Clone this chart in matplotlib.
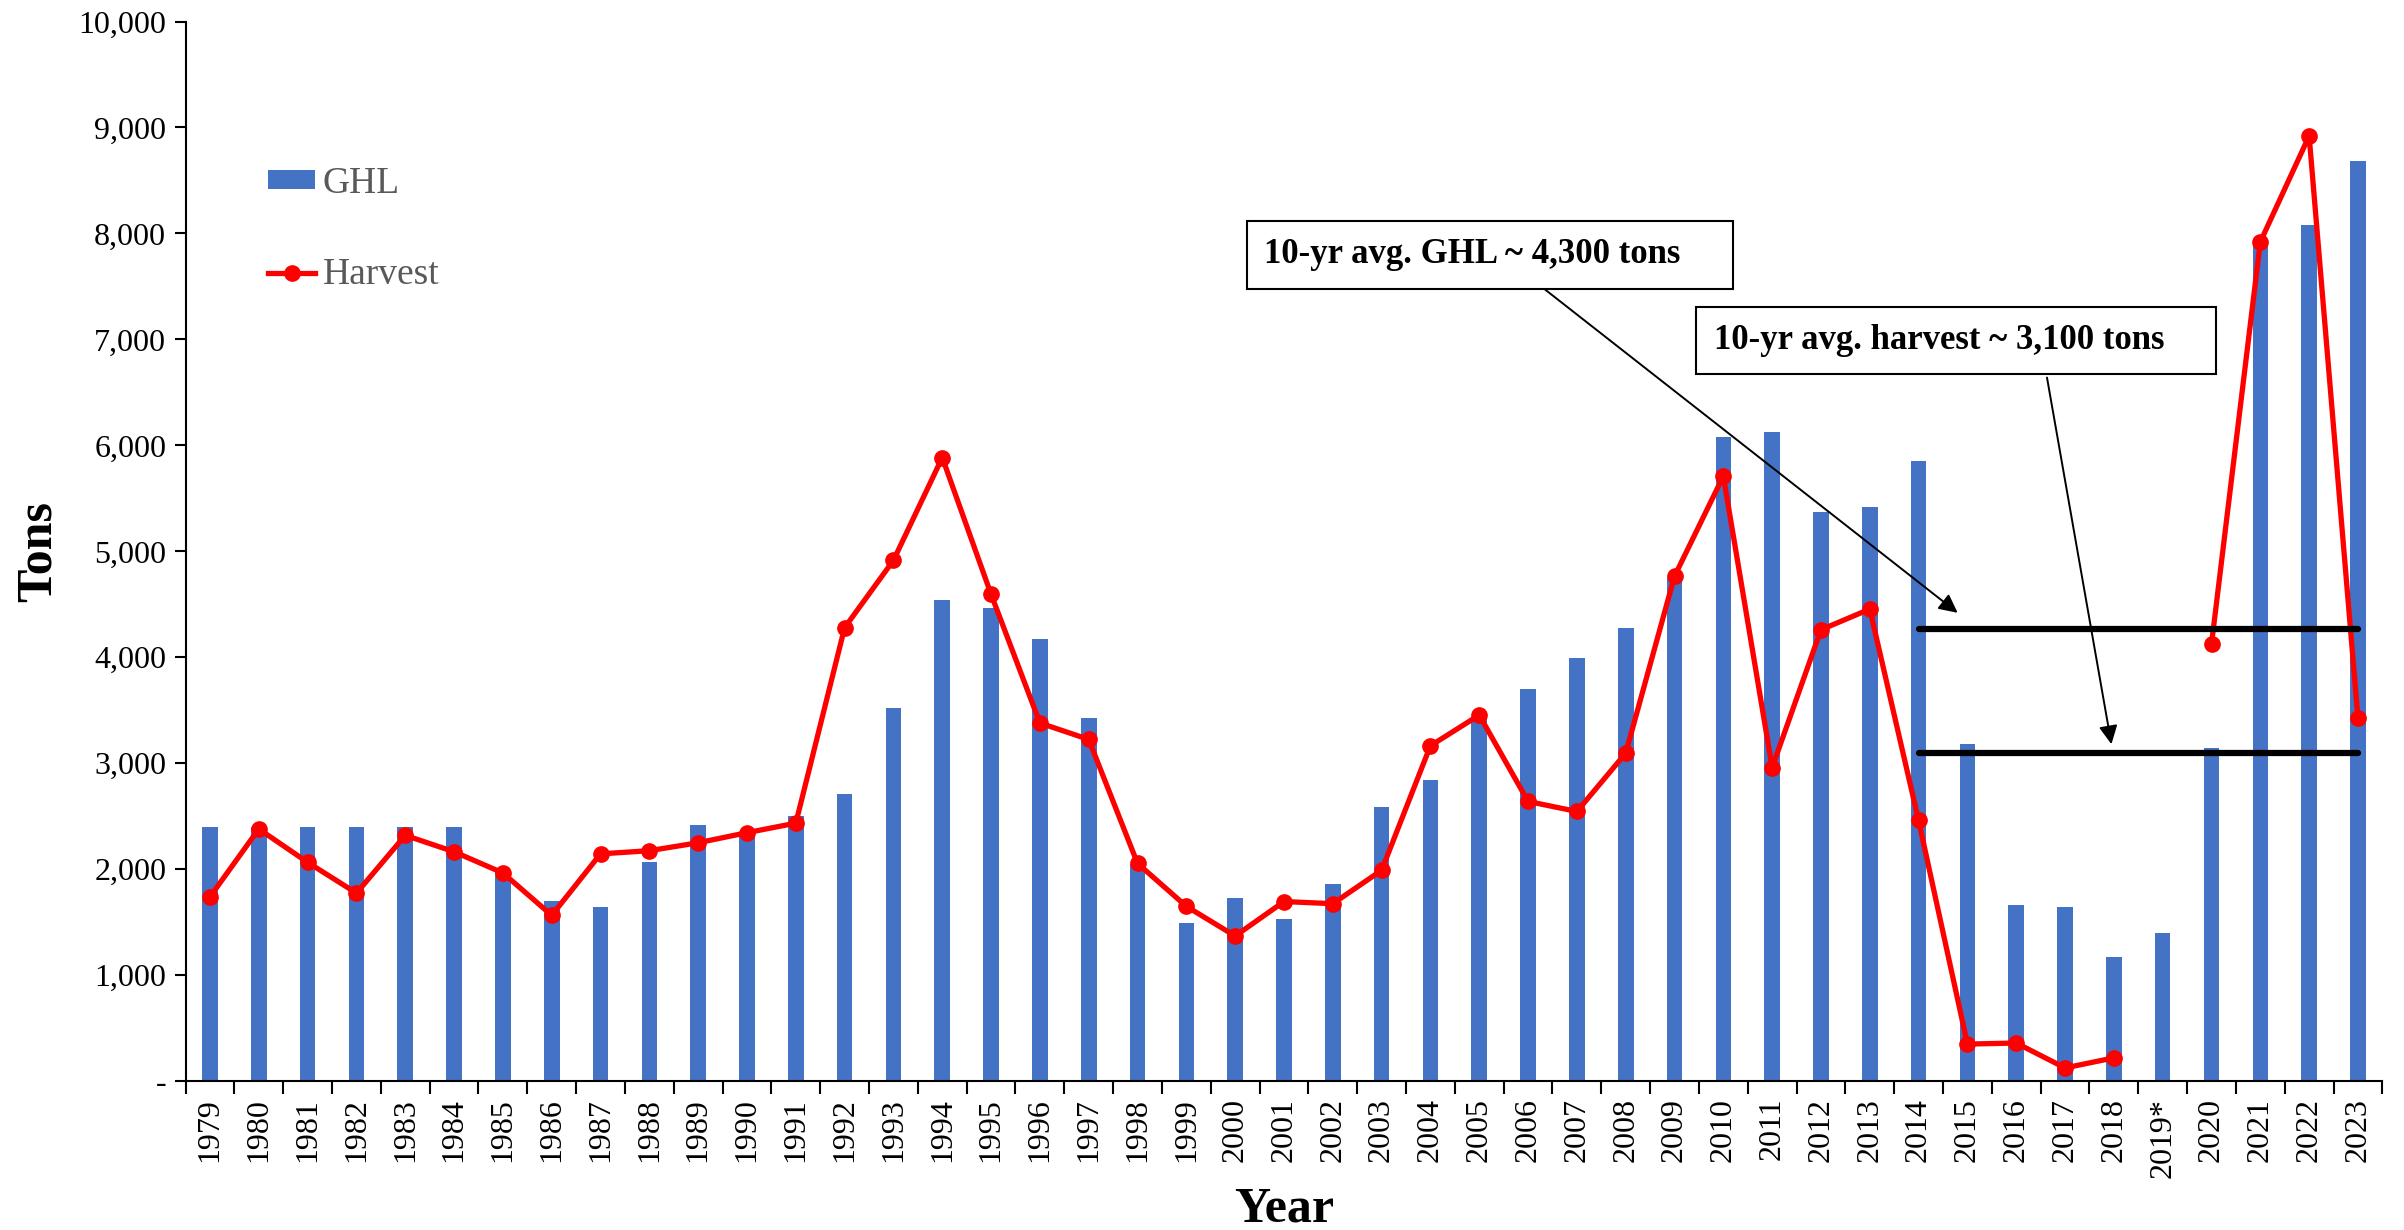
import numpy as np
import matplotlib
matplotlib.use('Agg')
import matplotlib.pyplot as plt
from matplotlib.ticker import FuncFormatter

plt.rcParams['font.family'] = ['Liberation Serif', 'DejaVu Serif']

""" Data """
years = ['1979', '1980', '1981', '1982', '1983', '1984', '1985', '1986', '1987',
         '1988', '1989', '1990', '1991', '1992', '1993', '1994', '1995', '1996',
         '1997', '1998', '1999', '2000', '2001', '2002', '2003', '2004', '2005',
         '2006', '2007', '2008', '2009', '2010', '2011', '2012', '2013', '2014',
         '2015', '2016', '2017', '2018', '2019*', '2020', '2021', '2022', '2023']

ghl = [2400, 2400, 2400, 2400, 2400, 2400, 1975, 1700, 1640, 2070, 2415, 2350,
       2500, 2710, 3520, 4540, 4470, 4175, 3425, 2050, 1490, 1730, 1535, 1860,
       2590, 2840, 3440, 3700, 3990, 4280, 4750, 6080, 6130, 5370, 5420, 5850,
       3185, 1660, 1640, 1175, 1395, 3145, 7940, 8080, 8680]

harvest = [1740, 2380, 2065, 1775, 2320, 2165, 1965, 1565, 2145, 2175, 2250, 2345,
           2435, 4280, 4915, 5885, 4595, 3380, 3225, 2055, 1650, 1370, 1695, 1675,
           1990, 3165, 3455, 2640, 2545, 3095, 4765, 5710, 2960, 4260, 4455, 2460,
           350, 360, 125, 220, np.nan, 4125, 7920, 8920, 3425]

# 10-yr averages, drawn across 2014-2023
avg_span = ['2014', '2023']
ghl_avg = 4270
harvest_avg = 3100

""" Plot """
fig = plt.figure(figsize=(24.04, 12.30), dpi=100)
ax = fig.add_axes([0.0772, 0.121, 0.9138, 0.8615])

x = np.arange(len(years))
bars = ax.bar(x, ghl, 0.32, color='#4472C4', label='GHL', zorder=2)
line, = ax.plot(x, harvest, color='#FF0000', lw=3.8, marker='o', markersize=11,
                label='Harvest', zorder=3)

x0 = years.index(avg_span[0])
x1 = years.index(avg_span[1])
ax.plot([x0, x1], [ghl_avg, ghl_avg], color='black', lw=4.5,
        solid_capstyle='round', zorder=4)
ax.plot([x0, x1], [harvest_avg, harvest_avg], color='black', lw=4.5,
        solid_capstyle='round', zorder=4)

# annotation boxes and arrows
ax.text(21.6, 7800, '10-yr avg. GHL ~ 4,300 tons    ', fontsize=25, fontweight='bold',
        ha='left', va='center', zorder=5,
        bbox=dict(boxstyle='square,pad=0.5', fc='white', ec='black', lw=1.5))
ax.text(30.8, 6990, '10-yr avg. harvest ~ 3,100 tons    ', fontsize=25, fontweight='bold',
        ha='left', va='center', zorder=5,
        bbox=dict(boxstyle='square,pad=0.5', fc='white', ec='black', lw=1.5))

ax.annotate('', xy=(35.8, 4420), xytext=(27.35, 7470),
            arrowprops=dict(arrowstyle='-|>', color='black', lw=1.4,
                            mutation_scale=28, shrinkA=0, shrinkB=0), zorder=4)
ax.annotate('', xy=(38.95, 3180), xytext=(37.63, 6640),
            arrowprops=dict(arrowstyle='-|>', color='black', lw=1.4,
                            mutation_scale=28, shrinkA=0, shrinkB=0), zorder=4)

# axes styling
ax.set_xlim(-0.5, len(years) - 0.5)
ax.set_ylim(0, 10000)
ax.set_yticks(np.arange(0, 10001, 1000))
ax.yaxis.set_major_formatter(FuncFormatter(lambda v, p: '-' if v == 0 else '{:,.0f}'.format(v)))
ax.set_xticks(x)
ax.set_xticklabels(years, rotation=90)
ax.set_xticks(np.arange(-0.5, len(years), 1.0), minor=True)
ax.tick_params(axis='x', which='major', length=0, labelsize=23, pad=12)
ax.tick_params(axis='x', which='minor', length=9, width=1.5, direction='out')
ax.tick_params(axis='y', length=8, width=1.5, direction='out', labelsize=23, pad=6)

for s in ['top', 'right']:
    ax.spines[s].set_visible(False)
for s in ['left', 'bottom']:
    ax.spines[s].set_linewidth(1.5)

ax.set_xlabel('Year', fontsize=36, fontweight='bold', labelpad=6)
ax.set_ylabel('Tons', fontsize=36, fontweight='bold', labelpad=12)

leg = ax.legend([bars, line], ['GHL', 'Harvest'], loc='upper left',
                bbox_to_anchor=(0.0376, 0.863), frameon=False,
                fontsize=27, handlelength=1.25, handleheight=0.4, handletextpad=0.2,
                labelspacing=1.5, borderpad=0, borderaxespad=0)
for t in leg.get_texts():
    t.set_color('#595959')

fig.savefig('out.png', dpi=100)
